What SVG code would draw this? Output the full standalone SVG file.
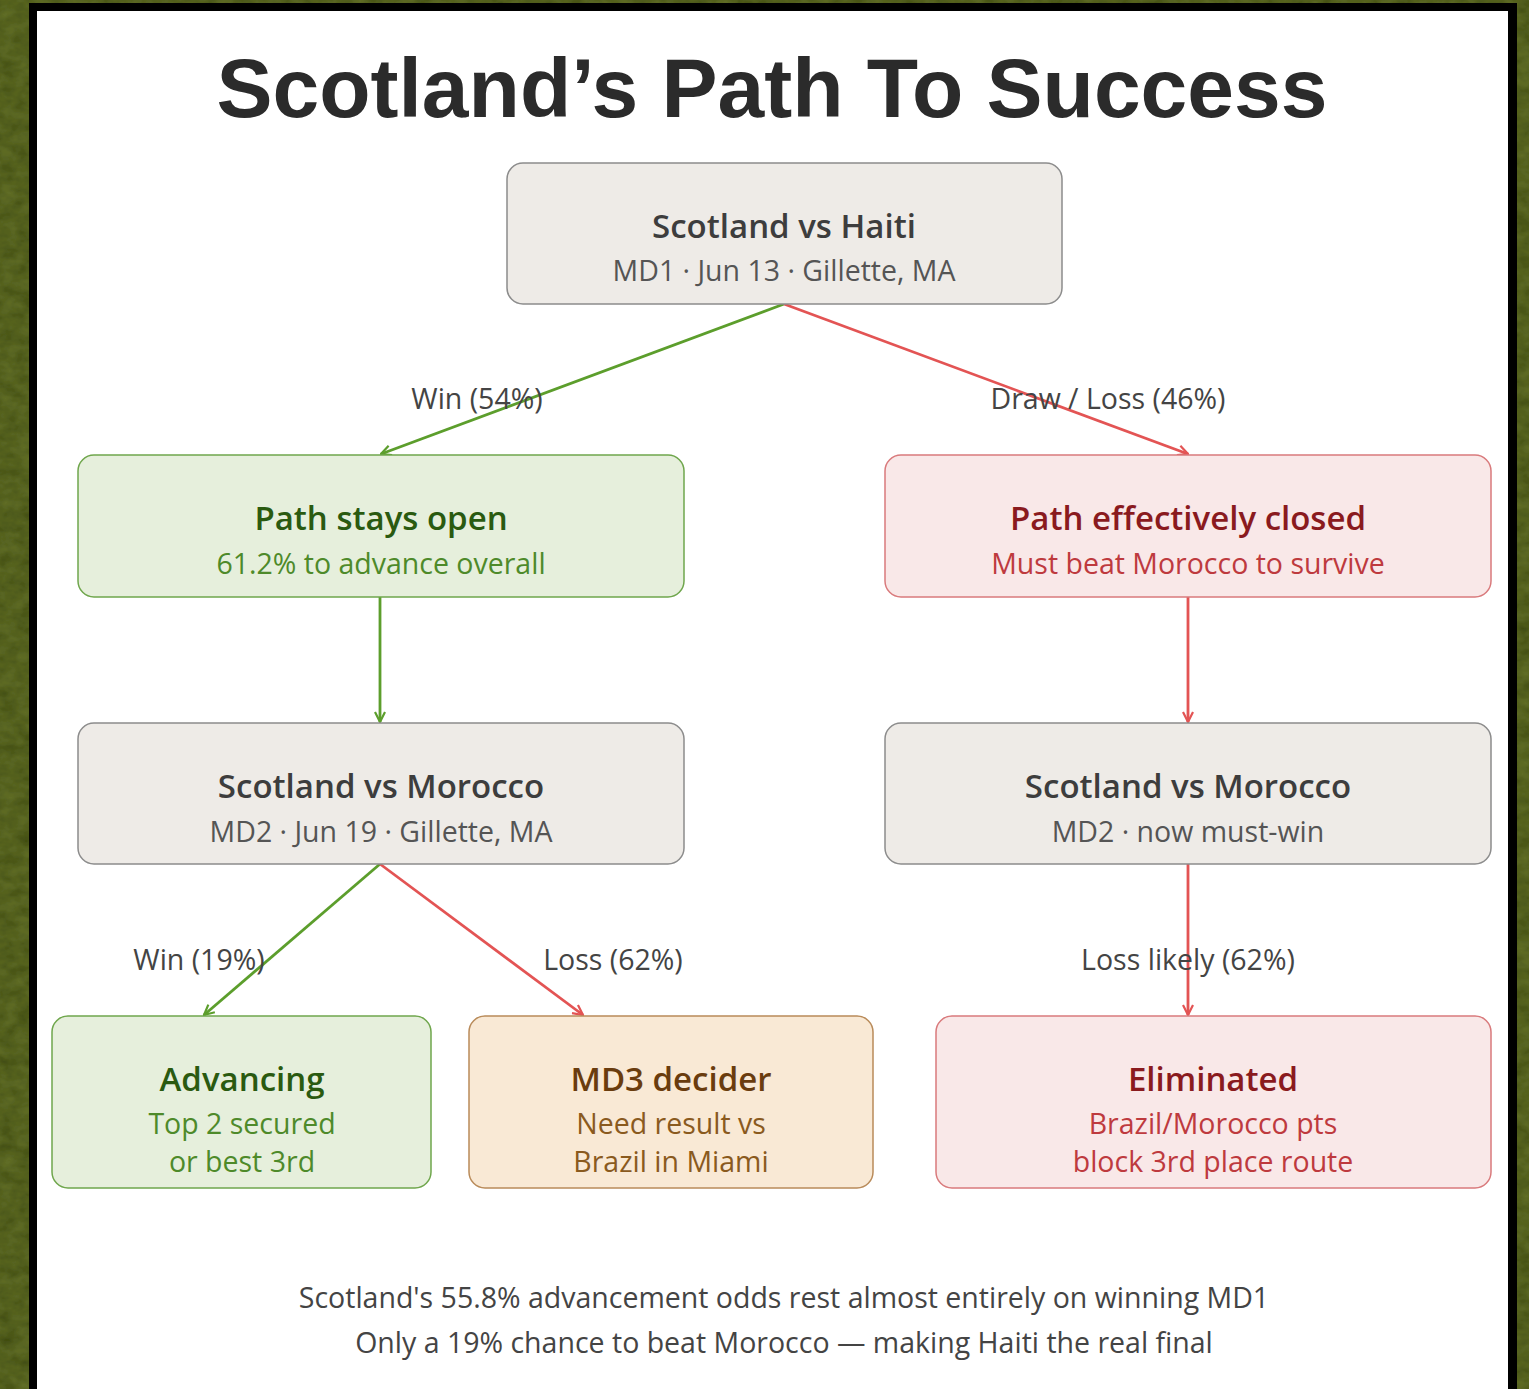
<svg xmlns="http://www.w3.org/2000/svg" width="1529" height="1389" viewBox="0 0 1529 1389">
<defs>
<filter id="grass" x="0" y="0" width="100%" height="100%">
<feTurbulence type="fractalNoise" baseFrequency="0.06 0.09" numOctaves="3" seed="3" result="n"/>
<feColorMatrix in="n" type="matrix" values="0 0 0 0 0.22  0 0 0 0 0.28  0 0 0 0 0.04  0 0 0 0.45 0" result="c"/>
<feComposite in="c" in2="SourceGraphic" operator="over"/>
</filter>
<marker id="ag" viewBox="0 0 12 12" refX="11" refY="6" markerWidth="12" markerHeight="12" markerUnits="userSpaceOnUse" orient="auto">
<path d="M1,1 L11,6 L1,11" fill="none" stroke="#5c9e2c" stroke-width="2.2"/>
</marker>
<marker id="ar" viewBox="0 0 12 12" refX="11" refY="6" markerWidth="12" markerHeight="12" markerUnits="userSpaceOnUse" orient="auto">
<path d="M1,1 L11,6 L1,11" fill="none" stroke="#e35454" stroke-width="2.2"/>
</marker>
</defs>
<style>
text{font-family:"Open Sans","Noto Sans","Liberation Sans",sans-serif;text-anchor:middle}
.title{font-family:"Liberation Sans",Arial,sans-serif;font-weight:700;font-size:84px;fill:#2b2b2b}
.h{font-size:33px;font-weight:600}
.s{font-size:28.5px}
.lbl{font-size:28.5px;fill:#444}
.ft{font-size:28.5px;fill:#444}
.gray rect{fill:#eeebe7;stroke:#8c8c8c;stroke-width:1.5}
.gray .h{fill:#3d3d3d}.gray .s{fill:#555}
.green rect{fill:#e6efdc;stroke:#6fa64c;stroke-width:1.5}
.green .h{fill:#2a5a10}.green .s{fill:#4e8a2a}
.red rect{fill:#f9e8e8;stroke:#d97a7c;stroke-width:1.5}
.red .h{fill:#8a1a1e}.red .s{fill:#be3a3e}
.amber rect{fill:#f9e9d5;stroke:#b98b5a;stroke-width:1.5}
.amber .h{fill:#6a3c0e}.amber .s{fill:#8a5a1e}
.cg{stroke:#5c9e2c;stroke-width:2.8;fill:none;marker-end:url(#ag)}
.cr{stroke:#e35454;stroke-width:2.8;fill:none;marker-end:url(#ar)}
</style>
<rect x="0" y="0" width="1529" height="1389" fill="#3e4a0e"/>
<rect x="0" y="0" width="1529" height="1389" fill="#3e4a0e" filter="url(#grass)"/>
<rect x="29" y="3" width="1488" height="1400" fill="#000"/>
<rect x="37" y="11" width="1471" height="1400" fill="#fff"/>
<text class="title" x="772" y="117">Scotland’s Path To Success</text>

<g id="connectors">
<line class="cg" x1="784" y1="304" x2="381" y2="454"/>
<line class="cr" x1="784" y1="304" x2="1188" y2="454"/>
<line class="cg" x1="380" y1="597" x2="380" y2="722"/>
<line class="cr" x1="1188" y1="597" x2="1188" y2="722"/>
<line class="cg" x1="380" y1="864" x2="204" y2="1015"/>
<line class="cr" x1="380" y1="864" x2="583" y2="1015"/>
<line class="cr" x1="1188" y1="864" x2="1188" y2="1015"/>
<text class="lbl" x="477" y="409">Win (54%)</text>
<text class="lbl" x="1108" y="409">Draw / Loss (46%)</text>
<text class="lbl" x="199" y="970">Win (19%)</text>
<text class="lbl" x="613" y="970">Loss (62%)</text>
<text class="lbl" x="1188" y="970">Loss likely (62%)</text>
</g>

<g id="n-haiti" class="gray">
<rect x="507" y="163" width="555" height="141" rx="16"/>
<text class="h" x="784" y="238">Scotland vs Haiti</text>
<text class="s" x="784" y="281">MD1 · Jun 13 · Gillette, MA</text>
</g>
<g id="n-open" class="green">
<rect x="78" y="455" width="606" height="142" rx="16"/>
<text class="h" x="381" y="530">Path stays open</text>
<text class="s" x="381" y="574">61.2% to advance overall</text>
</g>
<g id="n-closed" class="red">
<rect x="885" y="455" width="606" height="142" rx="16"/>
<text class="h" x="1188" y="530">Path effectively closed</text>
<text class="s" x="1188" y="574">Must beat Morocco to survive</text>
</g>
<g id="n-mor-l" class="gray">
<rect x="78" y="723" width="606" height="141" rx="16"/>
<text class="h" x="381" y="798">Scotland vs Morocco</text>
<text class="s" x="381" y="842">MD2 · Jun 19 · Gillette, MA</text>
</g>
<g id="n-mor-r" class="gray">
<rect x="885" y="723" width="606" height="141" rx="16"/>
<text class="h" x="1188" y="798">Scotland vs Morocco</text>
<text class="s" x="1188" y="842">MD2 · now must-win</text>
</g>
<g id="n-adv" class="green">
<rect x="52" y="1016" width="379" height="172" rx="16"/>
<text class="h" x="242" y="1091">Advancing</text>
<text class="s" x="242" y="1134">Top 2 secured</text>
<text class="s" x="242" y="1172">or best 3rd</text>
</g>
<g id="n-md3" class="amber">
<rect x="469" y="1016" width="404" height="172" rx="16"/>
<text class="h" x="671" y="1091">MD3 decider</text>
<text class="s" x="671" y="1134">Need result vs</text>
<text class="s" x="671" y="1172">Brazil in Miami</text>
</g>
<g id="n-elim" class="red">
<rect x="936" y="1016" width="555" height="172" rx="16"/>
<text class="h" x="1213" y="1091">Eliminated</text>
<text class="s" x="1213" y="1134">Brazil/Morocco pts</text>
<text class="s" x="1213" y="1172">block 3rd place route</text>
</g>

<text class="ft" x="784" y="1308">Scotland's 55.8% advancement odds rest almost entirely on winning MD1</text>
<text class="ft" x="784" y="1353">Only a 19% chance to beat Morocco — making Haiti the real final</text>
</svg>
